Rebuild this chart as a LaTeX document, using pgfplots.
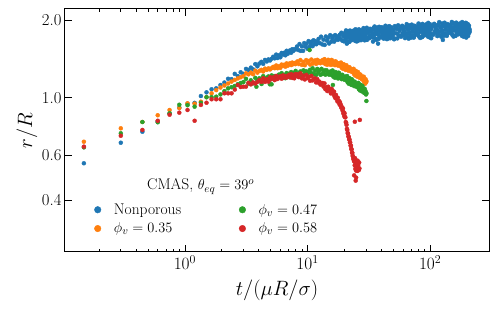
\documentclass[border=0pt]{standalone}
\usepackage{pgfplots}
\pgfplotsset{compat=1.18}
\definecolor{tabblue}{HTML}{1F77B4}
\definecolor{taborange}{HTML}{FF7F0E}
\definecolor{tabgreen}{HTML}{2CA02C}
\definecolor{tabred}{HTML}{D62728}
\begin{document}
\begin{tikzpicture}
\path[use as bounding box] (-65pt,-60pt) rectangle (433pt,252pt);
\begin{axis}[
 at={(0pt,0pt)}, anchor=south west,
 width=424pt, height=243pt, scale only axis,
 xmode=log, ymode=log,
 xmin=0.1052, xmax=302, ymin=0.2523, ymax=2.207,
 ytick={0.4,0.6,1,2}, yticklabels={0.4,0.6,1.0,2.0},
 yminorticks=false,
 tick align=inside, tick pos=both,
 major tick length=7pt, minor tick length=3.5pt,
 every tick/.style={black, line width=0.8pt},
 axis line style={line width=1pt},
 tick label style={font=\fontsize{16.7}{20}\selectfont},
 xlabel={$t/(\mu R/\sigma)$}, ylabel={$r/R$},
 label style={font=\fontsize{19.4}{23}\selectfont},
 xlabel style={at={(axis description cs:0.5,-0.156)}, anchor=center},
 ylabel style={at={(axis description cs:-0.09,0.5)}, anchor=center},
 legend columns=2, transpose legend,
 legend style={draw=none, fill=none, at={(axis description cs:0.055,0.216)}, anchor=north west,
   font=\fontsize{15.5}{18.5}\selectfont, row sep=3pt,
   /tikz/every even column/.append style={column sep=53pt}},
 legend cell align=left,
 legend image code/.code={\path (0pt,0pt) (20pt,0pt); \draw[#1, mark size=3.3pt] plot coordinates {(6pt,0pt)};},
]
% Nonporous
\addplot[only marks, mark=*, mark size=2pt, color=tabblue, mark options={draw=none}] coordinates {
(0.15,0.557)(0.30,0.669)(0.45,0.738)(0.60,0.808)(0.75,0.868)(0.90,0.915)(1.05,0.948)(1.20,0.955)(1.35,1.015)(1.50,1.049)(1.65,1.078)(1.80,1.087)(1.95,1.12)
(2.10,1.145)(2.25,1.184)(2.40,1.180)(2.55,1.237)(2.70,1.213)(2.85,1.255)(3.00,1.237)(3.15,1.293)(3.30,1.280)(3.45,1.308)(3.60,1.287)(3.75,1.349)(3.90,1.323)(4.05,1.356)(4.20,1.377)(4.35,1.353)(4.50,1.401)(4.65,1.382)(4.80,1.407)(4.95,1.394)(5.10,1.416)(5.25,1.441)(5.40,1.421)(5.55,1.469)(5.70,1.425)(5.85,1.461)(6.00,1.434)(6.15,1.491)(6.30,1.469)(6.45,1.493)(6.60,1.460)(6.75,1.520)(6.90,1.480)(7.05,1.507)(7.20,1.525)(7.35,1.494)(7.50,1.541)(7.65,1.517)(7.80,1.540)
(8.0,1.540)(8.2,1.579)(8.4,1.530)(8.6,1.614)(8.8,1.519)(9.0,1.581)(9.2,1.519)(9.4,1.628)(9.6,1.577)(9.8,1.617)(10.0,1.548)(10.2,1.657)(10.4,1.575)(10.6,1.621)(10.8,1.649)(11.0,1.584)(11.2,1.670)(11.4,1.615)(11.6,1.655)(11.8,1.611)
(12.0,1.645)(12.3,1.690)(12.6,1.628)(12.9,1.724)(13.2,1.609)(13.5,1.679)(13.8,1.602)(14.1,1.727)(14.4,1.663)(14.7,1.707)(15.0,1.622)(15.3,1.747)(15.6,1.648)(15.9,1.699)(16.2,1.729)(16.5,1.650)(16.8,1.749)(17.1,1.684)(17.4,1.726)(17.7,1.675)(18.0,1.711)(18.3,1.754)(18.6,1.688)(18.9,1.786)(19.2,1.664)(19.5,1.735)(19.8,1.654)
(20.0,1.725)(20.2,1.783)(20.4,1.689)(20.6,1.823)(20.8,1.653)(21.0,1.749)(21.2,1.635)(21.4,1.807)(21.6,1.713)(21.8,1.771)(22.0,1.648)(22.2,1.821)(22.4,1.679)(22.6,1.747)(22.8,1.786)(23.0,1.672)(23.2,1.806)(23.4,1.711)(23.6,1.770)(23.8,1.694)
(24.0,1.743)(24.2,1.802)(24.4,1.707)(24.6,1.842)(24.8,1.670)(25.0,1.767)(25.2,1.652)(25.4,1.826)(25.6,1.731)(25.8,1.790)(26.0,1.665)(26.2,1.840)(26.4,1.696)(26.6,1.765)(26.8,1.804)(27.0,1.689)(27.2,1.825)(27.4,1.729)(27.6,1.788)(27.8,1.712)
(28.0,1.761)(28.2,1.820)(28.4,1.724)(28.6,1.861)(28.8,1.687)(29.0,1.785)(29.2,1.669)(29.4,1.845)(29.6,1.749)(29.8,1.808)
(30.0,1.674)(30.4,1.867)(30.8,1.708)(31.2,1.784)(31.6,1.827)(32.0,1.700)(32.4,1.850)(32.8,1.744)(33.2,1.809)(33.6,1.725)(34.0,1.779)(34.4,1.844)(34.8,1.738)(35.2,1.888)(35.6,1.696)(36.0,1.804)(36.4,1.676)(36.8,1.870)(37.2,1.764)(37.6,1.828)
(38.0,1.690)(38.4,1.883)(38.8,1.723)(39.2,1.799)(39.6,1.843)(40.0,1.714)(40.4,1.865)(40.8,1.758)(41.2,1.822)(41.6,1.737)(42.0,1.791)(42.4,1.856)(42.8,1.749)(43.2,1.901)(43.6,1.707)(44.0,1.816)(44.4,1.686)(44.8,1.881)(45.2,1.773)(45.6,1.839)
(46.0,1.699)(46.4,1.894)(46.8,1.732)(47.2,1.808)(47.6,1.852)(48.0,1.722)(48.4,1.875)(48.8,1.767)(49.2,1.832)(49.6,1.746)
(50.0,1.823)(50.8,1.684)(51.6,1.895)(52.4,1.779)(53.2,1.849)(54.0,1.698)(54.8,1.908)(55.6,1.734)(56.4,1.816)(57.2,1.864)(58.0,1.723)(58.8,1.888)(59.6,1.772)(60.4,1.842)(61.2,1.749)(62.0,1.808)(62.8,1.880)(63.6,1.762)(64.4,1.928)(65.2,1.716)
(66.0,1.835)(66.8,1.694)(67.6,1.906)(68.4,1.789)(69.2,1.860)(70.0,1.708)(70.8,1.920)(71.6,1.744)(72.4,1.827)(73.2,1.875)(74.0,1.733)(74.8,1.900)(75.6,1.782)(76.4,1.853)(77.2,1.759)(78.0,1.819)(78.8,1.891)(79.6,1.773)(80.4,1.939)(81.2,1.726)
(82.0,1.846)(82.8,1.704)(83.6,1.918)(84.4,1.799)(85.2,1.871)(86.0,1.717)(86.8,1.932)(87.6,1.754)(88.4,1.838)(89.2,1.885)(90.0,1.744)(90.8,1.911)(91.6,1.792)(92.4,1.865)(93.2,1.770)(94.0,1.830)(94.8,1.901)(95.6,1.783)(96.4,1.950)(97.2,1.737)(98.0,1.856)(98.8,1.714)(99.6,1.928)
(100.8,1.762)(102.4,1.847)(104.0,1.896)(105.6,1.753)(107.2,1.922)(108.8,1.802)(110.4,1.875)(112.0,1.780)(113.6,1.841)(115.2,1.914)(116.8,1.794)(118.4,1.963)(120.0,1.748)(121.6,1.868)(123.2,1.724)(124.8,1.940)(126.4,1.820)(128.0,1.893)(129.6,1.737)(131.2,1.953)
(132.8,1.773)(134.4,1.857)(136.0,1.905)(137.6,1.761)(139.2,1.929)(140.8,1.810)(142.4,1.882)(144.0,1.786)(145.6,1.846)(147.2,1.918)(148.8,1.798)(150.4,1.966)(152.0,1.750)(153.6,1.870)(155.2,1.726)(156.8,1.942)(158.4,1.822)(160.0,1.894)(161.6,1.738)(163.2,1.954)
(164.8,1.773)(166.4,1.857)(168.0,1.905)(169.6,1.761)(171.2,1.929)(172.8,1.809)(174.4,1.881)(176.0,1.785)(177.6,1.845)(179.2,1.917)(180.8,1.797)(182.4,1.965)(184.0,1.748)(185.6,1.868)(187.2,1.724)(188.8,1.940)(190.4,1.820)(192.0,1.892)(193.6,1.736)(195.2,1.952)
(196.8,1.772)(198.4,1.855)(200.0,1.903)(201.6,1.759)(203.2,1.927)(204.8,1.807)(206.4,1.879)(208.0,1.783)(209.6,1.843)
(20.1,1.754)(20.5,1.670)(20.9,1.805)(21.3,1.721)(21.7,1.647)(22.1,1.782)(22.5,1.707)(22.9,1.767)(23.3,1.683)(23.7,1.819)(24.1,1.733)(24.5,1.659)(24.9,1.795)(25.3,1.720)(25.7,1.780)(26.1,1.694)(26.5,1.831)(26.9,1.746)(27.3,1.671)(27.7,1.808)(28.1,1.732)(28.5,1.792)(28.9,1.707)(29.3,1.845)(29.7,1.759)
(30.6,1.676)(31.4,1.826)(32.2,1.743)(33.0,1.809)(33.8,1.714)(34.6,1.865)(35.4,1.770)(36.2,1.687)(37.0,1.838)(37.8,1.754)(38.6,1.819)(39.4,1.724)(40.2,1.875)(41.0,1.779)(41.8,1.694)(42.6,1.846)(43.4,1.761)(44.2,1.826)(45.0,1.730)(45.8,1.882)(46.6,1.786)(47.4,1.700)(48.2,1.852)(49.0,1.767)(49.8,1.832)
(51.2,1.696)(52.8,1.861)(54.4,1.768)(56.0,1.839)(57.6,1.735)(59.2,1.900)(60.8,1.795)(62.4,1.702)(64.0,1.869)(65.6,1.776)(67.2,1.847)(68.8,1.742)(70.4,1.908)(72.0,1.803)(73.6,1.710)(75.2,1.876)(76.8,1.783)(78.4,1.854)(80.0,1.749)(81.6,1.916)(83.2,1.811)(84.8,1.717)(86.4,1.884)(88.0,1.790)(89.6,1.863)(91.2,1.757)(92.8,1.924)(94.4,1.818)(96.0,1.724)(97.6,1.892)(99.2,1.797)
(101.6,1.871)(104.8,1.764)(108.0,1.934)(111.2,1.828)(114.4,1.733)(117.6,1.903)(120.8,1.808)(124.0,1.880)(127.2,1.773)(130.4,1.941)(133.6,1.833)(136.8,1.737)(140.0,1.906)(143.2,1.810)(146.4,1.882)(149.6,1.774)(152.8,1.942)(156.0,1.834)(159.2,1.738)(162.4,1.906)(165.6,1.809)(168.8,1.881)(172.0,1.773)(175.2,1.941)(178.4,1.833)(181.6,1.737)(184.8,1.904)(188.0,1.808)(191.2,1.880)(194.4,1.772)(197.6,1.940)(200.8,1.831)(204.0,1.735)(207.2,1.903)(210.4,1.807)
(20.9,1.62)(34.2,1.65)(37.6,1.62)(102,1.70)(127,1.675)(197,1.71)
};
\addlegendentry{Nonporous}
% phi = 0.35
\addplot[only marks, mark=*, mark size=2pt, color=taborange, mark options={draw=none}] coordinates {
(0.15,0.675)(0.30,0.761)(0.45,0.805)(0.60,0.855)(0.75,0.896)(0.90,0.912)(1.05,0.951)(1.20,0.948)(1.35,0.965)(1.50,1.005)(1.65,1.04)(1.80,1.07)(1.95,1.095)(2.10,1.115)(2.25,1.135)(2.40,1.155)(2.55,1.172)(2.70,1.188)(2.85,1.20)(3.00,1.212)
(3.15,1.243)(3.30,1.232)(3.45,1.250)(3.60,1.233)(3.75,1.273)(3.90,1.251)(4.05,1.270)(4.20,1.282)(4.35,1.264)(4.50,1.296)(4.65,1.282)(4.80,1.299)(4.95,1.287)(5.10,1.301)(5.25,1.317)(5.40,1.301)(5.55,1.333)(5.70,1.301)(5.85,1.325)(6.00,1.305)
(6.15,1.344)(6.30,1.327)(6.45,1.342)(6.60,1.319)(6.75,1.358)(6.90,1.331)(7.05,1.348)(7.20,1.361)(7.35,1.338)(7.50,1.368)(7.65,1.349)(7.80,1.363)(7.95,1.349)
(8.00,1.360)(8.25,1.382)(8.50,1.350)(8.75,1.399)(9.00,1.340)(9.25,1.376)(9.50,1.336)(9.75,1.399)(10.00,1.366)(10.25,1.388)(10.50,1.344)(10.75,1.406)(11.00,1.355)(11.25,1.379)(11.50,1.394)(11.75,1.353)(12.00,1.402)(12.25,1.368)(12.50,1.388)(12.75,1.361)
(13.00,1.378)(13.25,1.399)(13.50,1.364)(13.75,1.411)(14.00,1.349)(14.25,1.384)(14.50,1.342)(14.75,1.403)(15.00,1.367)(15.25,1.387)(15.50,1.340)(15.75,1.401)(16.00,1.347)(16.25,1.369)(16.50,1.380)(16.75,1.337)(17.00,1.382)(17.25,1.345)(17.50,1.362)(17.75,1.331)
(18.00,1.345)(18.25,1.362)(18.50,1.326)(18.75,1.368)(19.00,1.305)(19.25,1.336)(19.50,1.292)(19.75,1.348)(20.00,1.311)(20.25,1.327)(20.50,1.281)(20.75,1.336)(21.00,1.283)(21.25,1.303)(21.50,1.312)(21.75,1.270)(22.00,1.312)(22.25,1.275)(22.50,1.292)(22.75,1.262)
(23.00,1.274)(23.25,1.289)(23.50,1.253)(23.75,1.294)(24.00,1.233)(24.25,1.260)(24.50,1.219)(24.75,1.271)(25.00,1.236)(25.25,1.250)(25.50,1.206)(25.75,1.258)(26.00,1.208)(26.25,1.225)(26.50,1.232)(26.75,1.192)(27.00,1.229)(27.25,1.195)(27.50,1.208)(27.75,1.180)
(28.00,1.190)(28.25,1.204)(28.50,1.169)(28.75,1.206)(29.00,1.149)(29.25,1.173)(29.50,1.133)(29.75,1.180)(30.00,1.146)(30.25,1.158)
};
\addlegendentry{$\phi_v = 0.35$}
% phi = 0.47
\addplot[only marks, mark=*, mark size=2pt, color=tabgreen, mark options={draw=none}] coordinates {
(0.15,0.642)(0.30,0.728)(0.45,0.805)(0.60,0.803)(0.75,0.870)(0.90,0.939)(1.05,0.935)(1.20,0.923)(1.35,0.956)(1.50,1.004)(1.65,1.005)(1.80,1.009)(1.95,1.03)(2.10,1.06)(2.25,1.087)(2.40,1.098)(2.55,1.11)(2.70,1.128)(2.85,1.14)(3.00,1.15)
(3.15,1.183)(3.30,1.135)(3.45,1.168)(3.60,1.137)(3.75,1.193)(3.90,1.168)(4.05,1.189)(4.20,1.154)(4.35,1.212)(4.50,1.171)(4.65,1.195)(4.80,1.209)(4.95,1.176)(5.10,1.220)(5.25,1.193)(5.40,1.213)(5.55,1.192)(5.70,1.209)(5.85,1.229)(6.00,1.201)
(6.15,1.245)(6.30,1.193)(6.45,1.224)(6.60,1.190)(6.75,1.246)(6.90,1.218)(7.05,1.238)(7.20,1.199)(7.35,1.257)(7.50,1.213)(7.65,1.236)(7.80,1.250)(7.95,1.215)
(8.00,1.270)(8.25,1.218)(8.50,1.246)(8.75,1.264)(9.00,1.222)(9.25,1.276)(9.50,1.242)(9.75,1.266)(10.00,1.239)(10.25,1.259)(10.50,1.283)(10.75,1.246)(11.00,1.300)(11.25,1.232)(11.50,1.270)(11.75,1.225)(12.00,1.293)(12.25,1.254)(12.50,1.277)(12.75,1.227)
(13.00,1.294)(13.25,1.236)(13.50,1.261)(13.75,1.275)(14.00,1.228)(14.25,1.278)(14.50,1.240)(14.75,1.260)(15.00,1.228)(15.25,1.245)(15.50,1.265)(15.75,1.225)(16.00,1.275)(16.25,1.206)(16.50,1.240)(16.75,1.194)(17.00,1.257)(17.25,1.218)(17.50,1.238)(17.75,1.187)
(18.00,1.250)(18.25,1.192)(18.50,1.215)(18.75,1.226)(19.00,1.180)(19.25,1.227)(19.50,1.188)(19.75,1.206)(20.00,1.174)(20.25,1.189)(20.50,1.206)(20.75,1.168)(21.00,1.213)(21.25,1.146)(21.50,1.178)(21.75,1.132)(22.00,1.191)(22.25,1.152)(22.50,1.170)(22.75,1.121)
(23.00,1.179)(23.25,1.123)(23.50,1.144)(23.75,1.154)(24.00,1.109)(24.25,1.154)(24.50,1.117)(24.75,1.133)(25.00,1.103)(25.25,1.117)(25.50,1.134)(25.75,1.098)(26.00,1.141)(26.25,1.078)(26.50,1.109)(26.75,1.067)(27.00,1.123)(27.25,1.087)(27.50,1.103)(27.75,1.058)
(28.00,1.112)(28.25,1.060)(28.50,1.077)(28.75,1.086)(29.00,1.043)(29.25,1.082)(29.50,1.046)(29.75,1.059)(30.00,1.029)(30.25,1.040)
(3.83,1.103)(4.22,1.13)(4.93,1.127)(5.09,1.127)(10.4,1.53)(16.1,1.12)(30.2,0.971)
};
\addlegendentry{$\phi_v = 0.47$}
% phi = 0.58
\addplot[only marks, mark=*, mark size=2pt, color=tabred, mark options={draw=none}] coordinates {
(0.15,0.646)(0.30,0.712)(0.45,0.750)(0.60,0.814)(0.75,0.859)(0.90,0.875)(1.05,0.896)(1.20,0.814)(1.35,0.937)(1.50,0.956)(1.65,0.986)(1.80,0.986)(1.95,0.986)(2.10,1.04)(2.25,1.04)(2.40,1.04)(2.55,1.075)(2.70,1.12)(2.85,1.10)(3.00,1.103)
(3.15,1.104)(3.30,1.142)(3.45,1.126)(3.60,1.146)(3.75,1.134)(3.90,1.151)(4.05,1.171)(4.20,1.152)(4.35,1.189)(4.50,1.151)(4.65,1.179)(4.80,1.154)(4.95,1.201)(5.10,1.180)(5.25,1.198)(5.40,1.170)(5.55,1.215)(5.70,1.182)(5.85,1.200)(6.00,1.212)
(6.15,1.185)(6.30,1.220)(6.45,1.198)(6.60,1.213)(6.75,1.196)(6.90,1.209)(7.05,1.225)(7.20,1.201)(7.35,1.235)(7.50,1.193)(7.65,1.218)(7.80,1.189)(7.95,1.233)
(8.00,1.214)(8.25,1.232)(8.50,1.201)(8.75,1.243)(9.00,1.188)(9.25,1.216)(9.50,1.177)(9.75,1.226)(10.00,1.191)(10.25,1.205)(10.50,1.163)(10.75,1.215)(11.00,1.167)(11.25,1.182)(11.50,1.188)(11.75,1.146)(12.00,1.180)(12.25,1.144)(12.50,1.154)(12.75,1.124)
(13.00,1.130)(13.25,1.140)(13.50,1.104)(13.75,1.136)(14.00,1.078)(14.25,1.099)(14.50,1.061)(14.75,1.103)(15.00,1.070)(15.25,1.080)(15.50,1.039)(15.75,1.082)
(16.00,1.052)(16.15,1.059)(16.30,1.032)(16.45,1.055)(16.60,1.012)(16.75,1.025)(16.90,0.995)(17.05,1.025)(17.20,0.997)(17.35,1.002)(17.50,0.970)(17.65,0.999)(17.80,0.962)(17.95,0.969)(18.10,0.970)(18.25,0.941)(18.40,0.960)(18.55,0.934)(18.70,0.938)(18.85,0.915)
(19.00,0.915)(19.15,0.918)(19.30,0.892)(19.45,0.909)(19.60,0.869)(19.75,0.877)(19.90,0.849)(20.05,0.870)(20.20,0.841)(20.35,0.839)(20.50,0.805)
(20.65,0.800)(20.80,0.785)(20.95,0.757)(21.10,0.750)(21.25,0.730)(21.40,0.726)(21.55,0.708)(21.70,0.705)(21.85,0.690)(22.00,0.688)(22.15,0.672)(22.30,0.670)(22.45,0.652)(22.60,0.651)(22.75,0.633)(22.90,0.630)(23.05,0.612)(23.20,0.611)(23.35,0.595)(23.50,0.592)(23.65,0.578)(23.80,0.580)
(23.95,0.567)(24.10,0.579)(24.25,0.547)(24.40,0.583)(24.55,0.530)(24.70,0.556)(24.85,0.522)(25.00,0.570)(25.15,0.542)(25.30,0.557)(25.45,0.520)(25.60,0.570)(25.75,0.529)(25.90,0.548)(26.05,0.558)(26.20,0.524)(26.35,0.561)(26.50,0.532)
(24.7,0.477)(24.0,0.500)(24.9,0.490)(24.3,0.807)(26.7,0.820)
};
\addlegendentry{$\phi_v = 0.58$}
\node[font=\fontsize{15.5}{18.5}\selectfont] at (axis description cs:0.32,0.269) {CMAS, $\theta_{eq} = 39^o$};
\end{axis}
\end{tikzpicture}
\end{document}
